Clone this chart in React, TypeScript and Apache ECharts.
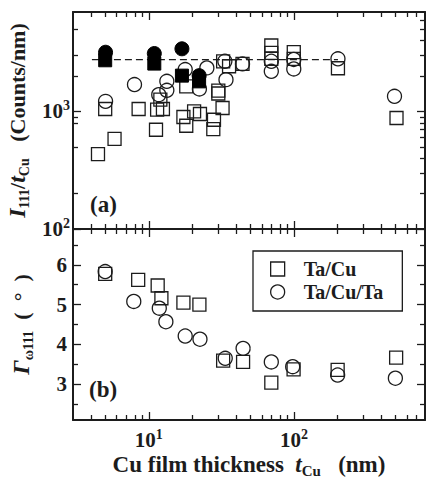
import React, { useEffect, useRef } from 'react';
import * as echarts from 'echarts';

// ---------- data ----------
// Panel (a): I111/tCu (counts/nm) vs Cu thickness (nm)
const taCuIntensity: [number, number][] = [
  [4.46, 433], [5.8, 585], [5.0, 1048], [8.5, 1048], [11.2, 698], [11.4, 1034],
  [12.5, 1048], [12.0, 1258], [18.1, 1633], [17.3, 896], [18.1, 755], [20.5, 1000],
  [22.5, 950], [28.1, 849], [27.8, 708], [30.1, 1500], [30.1, 1420], [32.2, 1069],
  [32.5, 2667], [35.7, 2421], [44.2, 2535], [69.8, 3633], [69.8, 3149], [69.8, 2800],
  [99.7, 3185], [99.7, 2800], [201, 2327], [509, 879],
];
const taCuTaIntensity: [number, number][] = [
  [5.03, 1217], [7.96, 1690], [11.7, 1388], [13.3, 1802], [13.3, 1510], [17.8, 2268],
  [22.3, 1552], [25.1, 2344], [33.4, 2667], [34.0, 1862], [44.2, 2535], [69.8, 2667],
  [69.8, 2192], [99.7, 2762], [99.7, 2297], [201, 2800], [493, 1343],
];
const filledCircleIntensity: [number, number][] = [
  [5.03, 3185], [10.9, 3105], [16.9, 3405], [22.2, 2014],
];
const filledSquareIntensity: [number, number][] = [
  [5.0, 2720], [10.9, 2550], [16.9, 2014], [22.2, 1800],
];
const dashedLevel: [number, number][] = [[4.05, 2750], [201, 2750]];

// Panel (b): rocking-curve width (deg) vs Cu thickness (nm)
const taCuFwhm: [number, number][] = [
  [5.0, 5.77], [8.44, 5.62], [11.5, 5.48], [12.2, 5.16], [17.3, 5.05], [22.3, 5.0],
  [32.5, 3.59], [44.6, 3.56], [69.8, 3.04], [99.4, 3.37], [200, 3.36], [506, 3.67],
];
const taCuTaFwhm: [number, number][] = [
  [5.0, 5.83], [7.87, 5.08], [11.8, 4.91], [13.1, 4.57], [17.8, 4.21], [22.5, 4.13],
  [33.6, 3.65], [44.6, 3.9], [69.8, 3.56], [98, 3.44], [200, 3.23], [500, 3.15],
];

// ---------- ticks ----------
const xRange = [3, 800];
const xMajorTicks = [10, 100];
const xMinorTicks = [4, 5, 6, 7, 8, 9, 20, 30, 40, 50, 60, 70, 80, 90, 200, 300, 400, 500, 600, 700];
const yTopRange = [100, 7000];
const yTopMajorTicks = [100, 1000];
const yTopMinorLeft = [200, 500, 800, 900, 2000, 3000, 5000];
const yTopMinorRight = [200, 300, 400, 500, 600, 700, 800, 900, 2000, 3000, 4000, 5000, 6000];
const yBotRange = [2.1, 6.9];
const yBotMajorTicks = [3, 4, 5, 6];
const yBotMinorTicks = [2.5, 3.5, 4.5, 5.5, 6.5];

const FONT = '"Liberation Serif", "Times New Roman", serif';
const INK = '#1c1c1c';

const powRich = {
  b: { fontFamily: FONT, fontWeight: 'bold', fontSize: 21, color: INK, lineHeight: 25 },
  p: { fontFamily: FONT, fontWeight: 'bold', fontSize: 14, color: INK, lineHeight: 15, verticalAlign: 'top' },
};
const powFmt = (v: number) => `{b|10}{p|${Math.round(Math.log10(v))}}`;

type AxisOpt = {
  dim: 'x' | 'y';
  grid: number;
  position: string;
  type: 'log' | 'value';
  range: number[];
  ticks: number[];
  major: boolean;
  labels?: number[];
  formatter?: (v: number) => string;
  rich?: any;
  labelSize?: number;
  name?: string;
  nameRich?: any;
  nameGap?: number;
  labelMargin?: number;
};

function makeAxis(o: AxisOpt) {
  const ax: any = {
    type: o.type,
    gridIndex: o.grid,
    position: o.position,
    min: o.range[0],
    max: o.range[1],
    splitLine: { show: false },
    axisLine: { show: o.major, onZero: false, lineStyle: { color: INK, width: 2 } },
    axisTick: {
      show: true,
      inside: true,
      length: o.major ? 8 : 5,
      customValues: o.ticks,
      lineStyle: { color: INK, width: 1.3 },
    },
    axisLabel: o.labels
      ? {
          show: true,
          customValues: o.labels,
          formatter: o.formatter,
          rich: o.rich,
          margin: o.labelMargin ?? 6,
          fontFamily: FONT,
          fontWeight: 'bold',
          fontSize: o.labelSize ?? 21,
          color: INK,
        }
      : { show: false },
  };
  if (o.type === 'log') ax.logBase = 10;
  if (o.name) {
    ax.name = o.name;
    ax.nameLocation = 'middle';
    ax.nameGap = o.nameGap;
    ax.nameTextStyle = { rich: o.nameRich, fontFamily: FONT, color: INK };
    if (o.dim === 'y') ax.nameRotate = 90;
  }
  return ax;
}

const subRich = {
  i: { fontFamily: FONT, fontWeight: 'bold', fontStyle: 'italic', fontSize: 24, color: INK, lineHeight: 28 },
  n: { fontFamily: FONT, fontWeight: 'bold', fontSize: 22, color: INK, lineHeight: 28 },
  s: { fontFamily: FONT, fontWeight: 'bold', fontSize: 14, color: INK, lineHeight: 15, verticalAlign: 'bottom' },
};
const xNameRich = {
  i: { ...subRich.i, fontSize: 23 },
  n: { ...subRich.n, fontSize: 23 },
  s: { ...subRich.s, fontSize: 15 },
};

export default function App() {
  const ref = useRef<HTMLDivElement>(null);

  useEffect(() => {
    if (!ref.current) return;
    const chart = echarts.init(ref.current, undefined, { renderer: 'svg' });

    const xAxes: any[] = [];
    const yAxes: any[] = [];
    for (const g of [0, 1]) {
      xAxes.push(
        makeAxis({
          dim: 'x', grid: g, position: 'bottom', type: 'log', range: xRange, ticks: xMajorTicks, major: true,
          ...(g === 1
            ? {
                labels: xMajorTicks, formatter: powFmt, rich: powRich, labelMargin: 7,
                name: '{n|Cu film thickness  }{i|t}{s|Cu}{n|   (nm)}', nameRich: xNameRich, nameGap: 30,
              }
            : {}),
        })
      );
      xAxes.push(makeAxis({ dim: 'x', grid: g, position: 'bottom', type: 'log', range: xRange, ticks: xMinorTicks, major: false }));
      xAxes.push(makeAxis({ dim: 'x', grid: g, position: 'top', type: 'log', range: xRange, ticks: xMajorTicks, major: true }));
      xAxes.push(makeAxis({ dim: 'x', grid: g, position: 'top', type: 'log', range: xRange, ticks: xMinorTicks, major: false }));
    }
    // top panel y
    yAxes.push(
      makeAxis({
        dim: 'y', grid: 0, position: 'left', type: 'log', range: yTopRange, ticks: yTopMajorTicks, major: true,
        labels: yTopMajorTicks, formatter: powFmt, rich: powRich, labelMargin: 3,
        name: '{i|I}{s|111}{n|/}{i|t}{s|Cu}{n|   (Counts/nm)}', nameRich: subRich, nameGap: 38,
      })
    );
    yAxes.push(makeAxis({ dim: 'y', grid: 0, position: 'left', type: 'log', range: yTopRange, ticks: yTopMinorLeft, major: false }));
    yAxes.push(makeAxis({ dim: 'y', grid: 0, position: 'right', type: 'log', range: yTopRange, ticks: yTopMajorTicks, major: true }));
    yAxes.push(makeAxis({ dim: 'y', grid: 0, position: 'right', type: 'log', range: yTopRange, ticks: yTopMinorRight, major: false }));
    // bottom panel y
    yAxes.push(
      makeAxis({
        dim: 'y', grid: 1, position: 'left', type: 'value', range: yBotRange, ticks: yBotMajorTicks, major: true,
        labels: yBotMajorTicks, formatter: (v: number) => String(v), labelMargin: 6, labelSize: 21,
        name: '{i|Γ}{s|ω111}{n|  (  °  )}', nameRich: subRich, nameGap: 38,
      })
    );
    yAxes.push(makeAxis({ dim: 'y', grid: 1, position: 'left', type: 'value', range: yBotRange, ticks: yBotMinorTicks, major: false }));
    yAxes.push(makeAxis({ dim: 'y', grid: 1, position: 'right', type: 'value', range: yBotRange, ticks: yBotMajorTicks, major: true }));
    yAxes.push(makeAxis({ dim: 'y', grid: 1, position: 'right', type: 'value', range: yBotRange, ticks: yBotMinorTicks, major: false }));

    const openStyle = { color: 'rgba(0,0,0,0)', borderColor: INK, borderWidth: 1.3, opacity: 1 };
    const filledStyle = { color: '#000', borderColor: '#000', borderWidth: 1, opacity: 1 };

    chart.setOption({
      animation: false,
      textStyle: { fontFamily: FONT, color: INK },
      grid: [
        { left: 73, top: 12, width: 352, height: 217, outerBoundsMode: 'none', containLabel: false },
        { left: 73, top: 229, width: 352, height: 191, outerBoundsMode: 'none', containLabel: false },
      ],
      xAxis: xAxes,
      yAxis: yAxes,
      legend: {
        left: 253,
        top: 251,
        orient: 'vertical',
        data: ['Ta/Cu', 'Ta/Cu/Ta'],
        itemWidth: 14,
        itemHeight: 14,
        itemGap: 3,
        padding: [8, 19, 9, 17],
        borderColor: INK,
        borderWidth: 1.3,
        borderRadius: 0,
        selectedMode: false,
        itemStyle: { color: 'rgba(0,0,0,0)', borderColor: INK, borderWidth: 1.3, opacity: 1 },
        textStyle: { fontFamily: FONT, fontWeight: 'bold', fontSize: 20, color: INK, lineHeight: 20, padding: [0, 0, 0, 14] },
      },
      graphic: [
        { type: 'text', left: 90, top: 193, style: { text: '(a)', font: `bold 23px ${FONT}`, fill: INK } },
        { type: 'text', left: 89, top: 378, style: { text: '(b)', font: `bold 23px ${FONT}`, fill: INK } },
      ],
      series: [
        {
          name: 'level', type: 'line', xAxisIndex: 0, yAxisIndex: 0, data: dashedLevel, symbol: 'none',
          lineStyle: { color: INK, width: 1.3, type: [7, 4] }, silent: true, z: 1,
        },
        { name: 'Ta/Cu', type: 'scatter', xAxisIndex: 0, yAxisIndex: 0, data: taCuIntensity, symbol: 'rect', symbolSize: 13, itemStyle: openStyle },
        { name: 'Ta/Cu/Ta', type: 'scatter', xAxisIndex: 0, yAxisIndex: 0, data: taCuTaIntensity, symbol: 'circle', symbolSize: 14, itemStyle: openStyle },
        { name: 'filled square', type: 'scatter', xAxisIndex: 0, yAxisIndex: 0, data: filledSquareIntensity, symbol: 'rect', symbolSize: 13, itemStyle: filledStyle },
        { name: 'filled circle', type: 'scatter', xAxisIndex: 0, yAxisIndex: 0, data: filledCircleIntensity, symbol: 'circle', symbolSize: 14, itemStyle: filledStyle },
        { name: 'Ta/Cu', type: 'scatter', xAxisIndex: 4, yAxisIndex: 4, data: taCuFwhm, symbol: 'rect', symbolSize: 13, itemStyle: openStyle },
        { name: 'Ta/Cu/Ta', type: 'scatter', xAxisIndex: 4, yAxisIndex: 4, data: taCuTaFwhm, symbol: 'circle', symbolSize: 14, itemStyle: openStyle },
      ],
    });

    return () => chart.dispose();
  }, []);

  return (
    <div style={{ position: 'absolute', left: 0, top: 0, width: 430, height: 486, background: '#fff' }}>
      <div ref={ref} style={{ width: 430, height: 486 }} />
    </div>
  );
}
